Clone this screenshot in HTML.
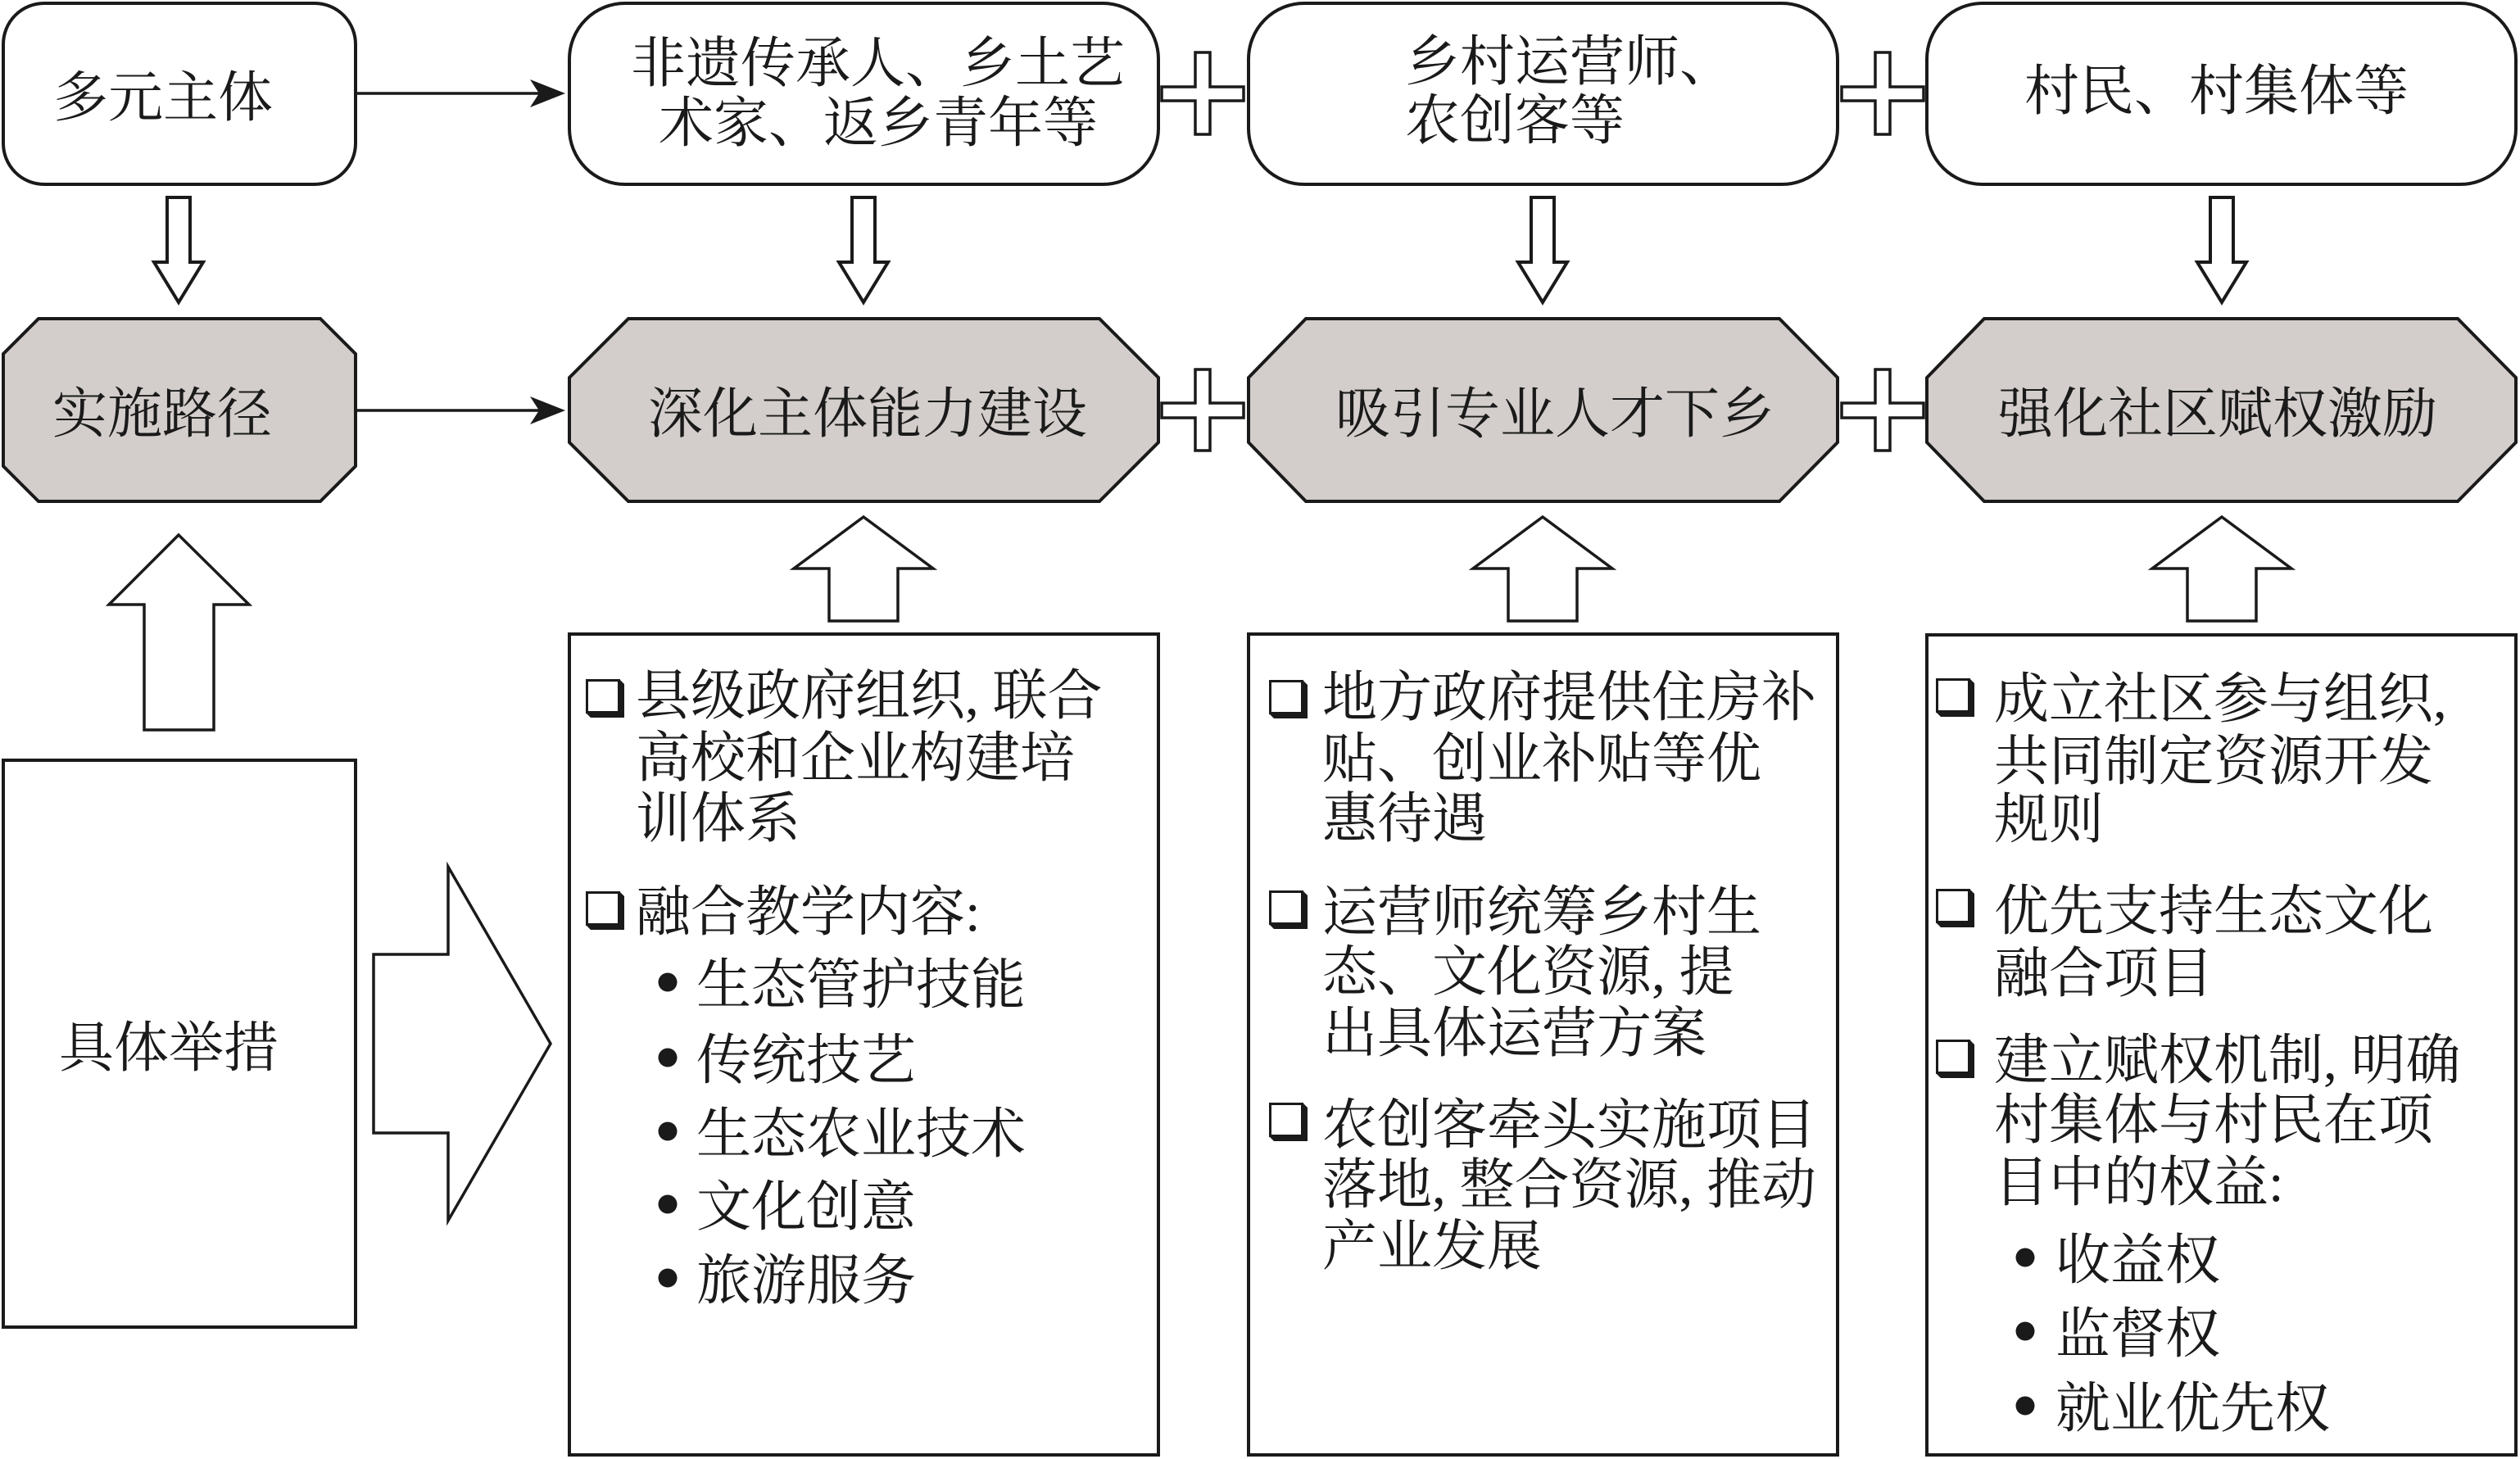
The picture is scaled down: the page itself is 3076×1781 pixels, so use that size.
<!DOCTYPE html>
<html>
<head>
<meta charset="utf-8">
<style>
html,body{margin:0;padding:0;background:#fff;}
body{width:3076px;height:1781px;overflow:hidden;}
svg{display:block;}
text{font-family:"Liberation Serif","Noto Serif CJK SC",serif;font-size:67px;fill:#1a1a1a;}
</style>
</head>
<body>
<svg width="3076" height="1781" viewBox="0 0 3076 1781" xmlns="http://www.w3.org/2000/svg">
<defs>
  <g id="cb">
    <rect x="1.5" y="1.5" width="39" height="39" fill="#fff" stroke="#1a1a1a" stroke-width="3"/>
    <polygon points="41,0 47,6 47,47 6,47 0,41 41,41" fill="#1a1a1a"/>
  </g>
</defs>
<g stroke="#1a1a1a" stroke-width="4" fill="#fff" stroke-linejoin="miter">
  <!-- top boxes -->
  <rect x="4" y="4" width="430" height="221" rx="50" ry="50"/>
  <rect x="695" y="4" width="719" height="221" rx="68" ry="68"/>
  <rect x="1524" y="4" width="719" height="221" rx="68" ry="68"/>
  <rect x="2352" y="4" width="719" height="221" rx="68" ry="68"/>

  <!-- octagons -->
  <g fill="#d3cdcb">
    <polygon points="47,389 391,389 434,432 434,569 391,612 47,612 4,569 4,432"/>
    <polygon points="767,389 1342,389 1414,461 1414,540 1342,612 767,612 695,540 695,461"/>
    <polygon points="1594,389 2172,389 2243,461 2243,540 2172,612 1594,612 1524,540 1524,461"/>
    <polygon points="2422,389 3000,389 3071,461 3071,540 3000,612 2422,612 2352,540 2352,461"/>
  </g>

  <!-- down hollow arrows -->
  <polygon points="204,241 232,241 232,320 248,320 218,369 188,320 204,320"/>
  <polygon points="1040,241 1068,241 1068,320 1084,320 1054,369 1024,320 1040,320"/>
  <polygon points="1869,241 1897,241 1897,320 1913,320 1883,369 1853,320 1869,320"/>
  <polygon points="2698,241 2726,241 2726,320 2742,320 2712,369 2682,320 2698,320"/>

  <!-- up hollow arrows -->
  <polygon stroke-width="3.5" points="218,653 304,738 261,738 261,891 176,891 176,738 133,738"/>
  <polygon stroke-width="3.5" points="1054,631 1139,694 1096,694 1096,758 1012,758 1012,694 969,694"/>
  <polygon stroke-width="3.5" points="1883,631 1968,694 1925,694 1925,758 1841,758 1841,694 1798,694"/>
  <polygon stroke-width="3.5" points="2712,631 2797,694 2754,694 2754,758 2670,758 2670,694 2627,694"/>

  <!-- big right arrow -->
  <polygon stroke-width="3.5" points="456,1165 547,1165 547,1058 672,1274 547,1490 547,1383 456,1383"/>

  <!-- lower boxes -->
  <rect x="4" y="928" width="430" height="692"/>
  <rect x="695" y="774" width="719" height="1002"/>
  <rect x="1524" y="774" width="719" height="1002"/>
  <rect x="2352" y="775" width="719" height="1001"/>

  <!-- plus signs -->
  <g stroke-width="3.5">
    <polygon points="1459,64 1477,64 1477,106 1518,106 1518,123 1477,123 1477,164 1459,164 1459,123 1418,123 1418,106 1459,106"/>
    <polygon points="2289,64 2307,64 2307,106 2348,106 2348,123 2307,123 2307,164 2289,164 2289,123 2248,123 2248,106 2289,106"/>
    <polygon points="1459,451 1477,451 1477,492 1518,492 1518,510 1477,510 1477,550 1459,550 1459,510 1418,510 1418,492 1459,492"/>
    <polygon points="2289,451 2307,451 2307,492 2348,492 2348,510 2307,510 2307,550 2289,550 2289,510 2248,510 2248,492 2289,492"/>
  </g>
</g>

<!-- connector arrows -->
<g stroke="#1a1a1a" stroke-width="3.5">
  <line x1="435" y1="114" x2="660" y2="114"/>
  <line x1="435" y1="501" x2="660" y2="501"/>
</g>
<g fill="#1a1a1a">
  <polygon points="690,114 647,97 658,114 647,131"/>
  <polygon points="690,501 647,484 658,501 647,518"/>
</g>

<!-- checkboxes -->
<use href="#cb" x="715" y="829"/>
<use href="#cb" x="715" y="1088"/>
<use href="#cb" x="1549" y="830"/>
<use href="#cb" x="1549" y="1087"/>
<use href="#cb" x="1549" y="1346"/>
<use href="#cb" x="2363" y="828"/>
<use href="#cb" x="2363" y="1085"/>
<use href="#cb" x="2363" y="1269"/>

<!-- bullets -->
<g fill="#1a1a1a">
  <circle cx="815" cy="1199" r="11.5"/>
  <circle cx="815" cy="1291" r="11.5"/>
  <circle cx="815" cy="1381" r="11.5"/>
  <circle cx="815" cy="1470" r="11.5"/>
  <circle cx="815" cy="1560" r="11.5"/>
  <circle cx="2472" cy="1535" r="11.5"/>
  <circle cx="2472" cy="1625" r="11.5"/>
  <circle cx="2472" cy="1716" r="11.5"/>
</g>

<!-- top row text -->
<text x="65" y="142">多元主体</text>
<text x="770" y="100">非遗传承人、乡土艺</text>
<text x="804" y="173">术家、返乡青年等</text>
<text x="1715" y="98">乡村运营师、</text>
<text x="1715" y="170">农创客等</text>
<text x="2471" y="134">村民、村集体等</text>

<!-- second row text -->
<text x="64" y="528">实施路径</text>
<text x="791" y="528">深化主体能力建设</text>
<text x="1630" y="528">吸引专业人才下乡</text>
<text x="2439" y="528">强化社区赋权激励</text>

<text x="72" y="1302">具体举措</text>

<!-- column 2 -->
<text x="776" y="872">县级政府组织, 联合</text>
<text x="776" y="948">高校和企业构建培</text>
<text x="776" y="1022">训体系</text>
<text x="776" y="1136">融合教学内容:</text>
<text x="850" y="1225">生态管护技能</text>
<text x="850" y="1317">传统技艺</text>
<text x="850" y="1407">生态农业技术</text>
<text x="850" y="1496">文化创意</text>
<text x="850" y="1586">旅游服务</text>

<!-- column 3 -->
<text x="1614" y="874">地方政府提供住房补</text>
<text x="1614" y="949">贴、创业补贴等优</text>
<text x="1614" y="1022">惠待遇</text>
<text x="1614" y="1136">运营师统筹乡村生</text>
<text x="1614" y="1209">态、文化资源, 提</text>
<text x="1614" y="1284">出具体运营方案</text>
<text x="1614" y="1396">农创客牵头实施项目</text>
<text x="1614" y="1469">落地, 整合资源, 推动</text>
<text x="1614" y="1544">产业发展</text>

<!-- column 4 -->
<text x="2434" y="876">成立社区参与组织,</text>
<text x="2434" y="952">共同制定资源开发</text>
<text x="2434" y="1023">规则</text>
<text x="2434" y="1135">优先支持生态文化</text>
<text x="2434" y="1211">融合项目</text>
<text x="2434" y="1317">建立赋权机制, 明确</text>
<text x="2434" y="1390">村集体与村民在项</text>
<text x="2434" y="1466">目中的权益:</text>
<text x="2509" y="1561">收益权</text>
<text x="2509" y="1651">监督权</text>
<text x="2509" y="1742">就业优先权</text>
</svg>
</body>
</html>
